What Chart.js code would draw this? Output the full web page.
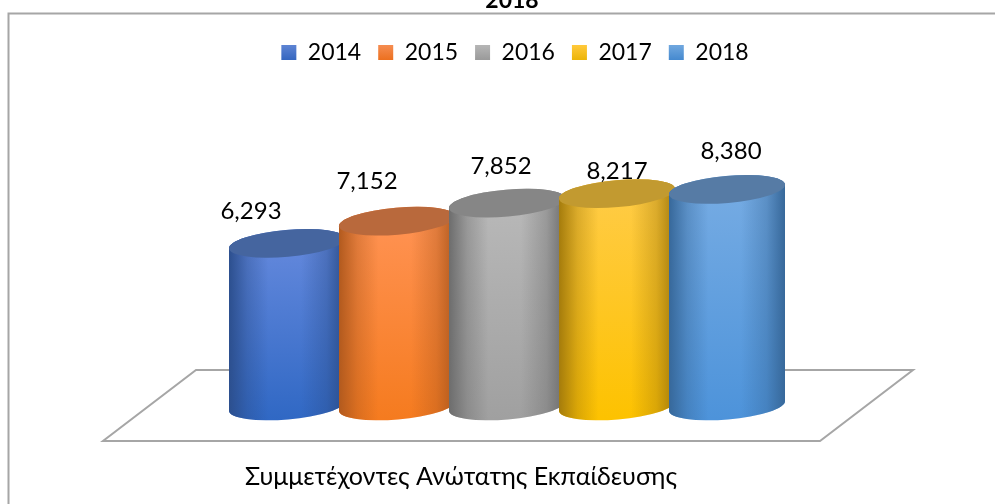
<!DOCTYPE html>
<html><head><meta charset="utf-8">
<style>html,body{margin:0;padding:0;background:#fff;overflow:hidden}#wrap{position:relative;width:995px;height:504px}</style>
<script src="https://cdn.jsdelivr.net/npm/chart.js@4/dist/chart.umd.js"></script>
</head><body><div id="wrap"><canvas id="c" width="995" height="504"></canvas></div>
<script>
const categories = ["Συμμετέχοντες Ανώτατης Εκπαίδευσης"];
const years = ["2014","2015","2016","2017","2018"];
const values = [6293,7152,7852,8217,8380];
const titleText = "2018";
const FONT = "Lato, 'Open Sans', sans-serif";
// manual label nudges, as in the source chart
const labelNudge = [[-36,-22],[-30,-30],[-6,-27],[0,-12],[4,-28]];
// side edge / centre top / centre bottom / top cap / legend top / legend bottom
const palette = [
 {edge:"#2c4f8e",top:"#6388dc",bot:"#3068c4",cap:"#45659f",lt:"#5b82d2",lb:"#2f62bd"},
 {edge:"#b25a1e",top:"#ff9252",bot:"#f57b1f",cap:"#b9693c",lt:"#f58b4e",lb:"#eb6c18"},
 {edge:"#6d6d6d",top:"#b8b8b8",bot:"#a0a0a0",cap:"#868686",lt:"#b4b4b4",lb:"#969696"},
 {edge:"#a57c0c",top:"#ffcb45",bot:"#fdc200",cap:"#c29a30",lt:"#ffc838",lb:"#e9b200"},
 {edge:"#37689a",top:"#75abe3",bot:"#4d93da",cap:"#567ba5",lt:"#6ea6de",lb:"#3f85cd"}
];
const TILT=-5*Math.PI/180, RY=13.5;

const cylinders = {
 id:"cylinders",
 beforeDraw(chart){
  const {ctx}=chart;
  ctx.save();
  ctx.strokeStyle="#a6a6a6";ctx.lineWidth=2;
  ctx.beginPath();ctx.moveTo(8.5,chart.height);ctx.lineTo(8.5,13.5);ctx.lineTo(chart.width,13.5);ctx.stroke();
  ctx.restore();
 },
 afterLayout(chart){
  const t=chart.titleBlock, l=chart.legend;
  t.left=412;t.right=612;t.top=-13;t.bottom=15;
  l.left=215;l.right=815;l.top=24;
 },
 beforeDatasetDraw(){return false;},
 beforeDatasetsDraw(chart){
  const {ctx,chartArea:a}=chart;
  const base=a.bottom;
  // floor
  ctx.save();
  ctx.strokeStyle="#a6a6a6";ctx.lineWidth=2;ctx.beginPath();
  ctx.moveTo(a.left-129,base+35);ctx.lineTo(a.right+38,base+35);
  ctx.lineTo(a.right+131,base-36);ctx.lineTo(a.left-36,base-36);ctx.closePath();ctx.stroke();
  ctx.restore();
  years.forEach((y,i)=>{
   const el=chart.getDatasetMeta(i).data[0];
   const p=el.getProps(["x","y","base","width"],true);
   const rx=p.width/2/Math.cos(TILT), h=p.width/2, dy=rx*Math.sin(TILT);
   const c=palette[i];
   ctx.save();
   ctx.beginPath();
   ctx.ellipse(p.x,p.base,rx,RY,TILT,0,Math.PI);
   ctx.lineTo(p.x-h,p.y-dy);
   ctx.ellipse(p.x,p.y,rx,RY,TILT,Math.PI,2*Math.PI);
   ctx.closePath();
   ctx.clip();
   // vertical body colour
   const v=ctx.createLinearGradient(0,p.y,0,p.base+RY);
   v.addColorStop(0,c.top);v.addColorStop(1,c.bot);
   ctx.fillStyle=v;ctx.fillRect(p.x-h-2,p.y-RY-8,p.width+4,p.base-p.y+2*RY+16);
   // horizontal shading
   const g=ctx.createLinearGradient(p.x-h,0,p.x+h,0);
   const e=c.edge;
   g.addColorStop(0,e+"ff");g.addColorStop(0.16,e+"66");g.addColorStop(0.34,e+"00");
   g.addColorStop(0.62,e+"00");g.addColorStop(0.84,e+"66");g.addColorStop(1,e+"ff");
   ctx.fillStyle=g;ctx.fillRect(p.x-h-2,p.y-RY-8,p.width+4,p.base-p.y+2*RY+16);
   ctx.restore();
   // top cap
   ctx.beginPath();
   ctx.ellipse(p.x,p.y,rx,RY,TILT,0,2*Math.PI);
   ctx.fillStyle=c.cap;ctx.fill();
  });
  // value labels
  ctx.save();
  ctx.font="24px "+FONT;ctx.fillStyle="#000";ctx.textAlign="center";ctx.textBaseline="middle";
  years.forEach((y,i)=>{
   const el=chart.getDatasetMeta(i).data[0];
   ctx.fillText(values[i].toLocaleString("en-US"),el.x+labelNudge[i][0],el.y+labelNudge[i][1]-10);
  });
  ctx.restore();
 }
};

new Chart(document.getElementById("c"),{
 type:"bar",
 data:{labels:categories,datasets:years.map((y,i)=>({label:y,data:[values[i]],backgroundColor:palette[i].lb,categoryPercentage:1,barPercentage:116/110}))},
 plugins:[cylinders],
 options:{
  responsive:false,animation:false,
  layout:{padding:{left:232,right:213,top:70,bottom:0}},
  plugins:{
   tooltip:{enabled:false},
   title:{display:true,text:titleText,color:"#000",padding:0,font:{family:FONT,size:23,weight:"bold"}},
   legend:{display:true,position:"top",labels:{
     boxWidth:15,boxHeight:15,padding:17,color:"#000",font:{family:FONT,size:23},
     generateLabels(chart){
      return years.map((y,i)=>{
       const g=chart.ctx.createLinearGradient(0,46,0,62);
       g.addColorStop(0,palette[i].lt);g.addColorStop(1,palette[i].lb);
       return {text:y,fillStyle:g,strokeStyle:g,lineWidth:0,datasetIndex:i,fontColor:"#000"};
      });
     }}}
  },
  scales:{
   x:{grid:{display:false,drawTicks:false},border:{display:false},
      afterFit(s){s.height=98;},
      ticks:{color:"#000",font:{family:FONT,size:25},padding:56,labelOffset:-46,maxRotation:0,autoSkip:false}},
   y:{display:false,min:0,max:10000,grid:{display:false}}
  }
 }
});
</script></body></html>
